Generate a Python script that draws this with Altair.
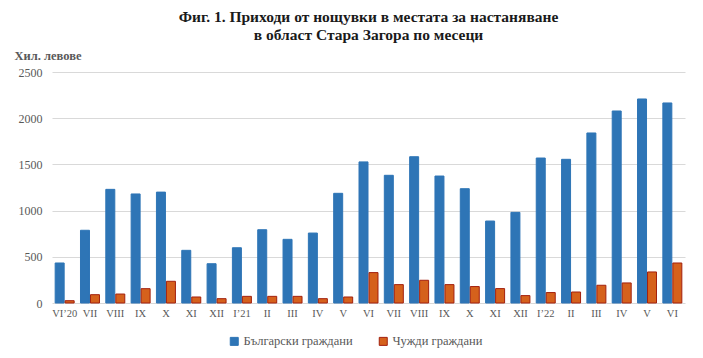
import altair as alt
import pandas as pd

months = ["VI’20", "VII", "VIII", "IX", "X", "XI", "XII", "I’21", "II", "III", "IV", "V",
          "VI", "VII", "VIII", "IX", "X", "XI", "XII", "I’22", "II", "III", "IV", "V", "VI"]
bulgarian = [433, 787, 1230, 1180, 1200, 570, 425, 598, 793, 689, 757, 1187,
             1527, 1382, 1583, 1374, 1237, 887, 981, 1569, 1555, 1840, 2078, 2208, 2165]
foreign = [25, 90, 97, 155, 235, 65, 47, 72, 72, 72, 47, 65,
           329, 199, 246, 199, 178, 156, 80, 113, 119, 192, 217, 336, 433]
series = ["Български граждани", "Чужди граждани"]
fills = ["#2E75B6", "#D5611C"]
strokes = ["#2E75B6", "#A3200E"]

rows = []
for i, m in enumerate(months):
    rows.append({"idx": i, "series": series[0], "value": bulgarian[i]})
    rows.append({"idx": i, "series": series[1], "value": foreign[i]})
df = pd.DataFrame(rows)

label_expr = "[" + ",".join("'" + m + "'" for m in months) + "][datum.value]"
font = "Liberation Serif"
grey = "#595959"

chart = alt.Chart(df).mark_bar(strokeWidth=1).encode(
    x=alt.X("idx:O", title=None,
            scale=alt.Scale(paddingInner=0.25, paddingOuter=0.125),
            axis=alt.Axis(labelExpr=label_expr, labelAngle=0, domain=False, ticks=False,
                          labelFont=font, labelFontSize=10.5, labelColor=grey, labelPadding=5)),
    xOffset=alt.XOffset("series:N", sort=series, scale=alt.Scale(paddingInner=0.1)),
    y=alt.Y("value:Q", scale=alt.Scale(domain=[0, 2500]),
            axis=alt.Axis(values=[0, 500, 1000, 1500, 2000, 2500], format="d",
                          domain=False, ticks=False,
                          labelFont=font, labelFontSize=12, labelColor=grey, labelPadding=10,
                          gridColor="#D9D9D9", title="Хил. левове", titleAngle=0,
                          titleAlign="left", titleBaseline="bottom", titleX=-38, titleY=-10,
                          titleFont=font, titleFontSize=12.5, titleFontWeight="bold",
                          titleColor=grey)),
    color=alt.Color("series:N", sort=series, title=None,
                    scale=alt.Scale(domain=series, range=fills)),
    stroke=alt.Stroke("series:N", sort=series, title=None,
                      scale=alt.Scale(domain=series, range=strokes)),
).properties(
    width=633, height=231,
    padding={"left": 6, "top": 1, "right": 10, "bottom": 4},
    title=alt.TitleParams(
        ["Фиг. 1. Приходи от нощувки в местата за настаняване",
         "в област Стара Загора по месеци"],
        font=font, fontSize=15.5, fontWeight="bold", color="#1a1a1a",
        anchor="middle", offset=6, lineHeight=18),
).configure_legend(
    orient="none", legendX=176, legendY=263, direction="horizontal",
    symbolType="square", symbolSize=64,
    labelFont=font, labelFontSize=12.5, labelColor=grey, columnPadding=24,
    symbolStrokeWidth=1, labelOffset=3
).configure_view(stroke=None)

chart.save("out.html", embed_options={"renderer": "svg", "actions": False})
